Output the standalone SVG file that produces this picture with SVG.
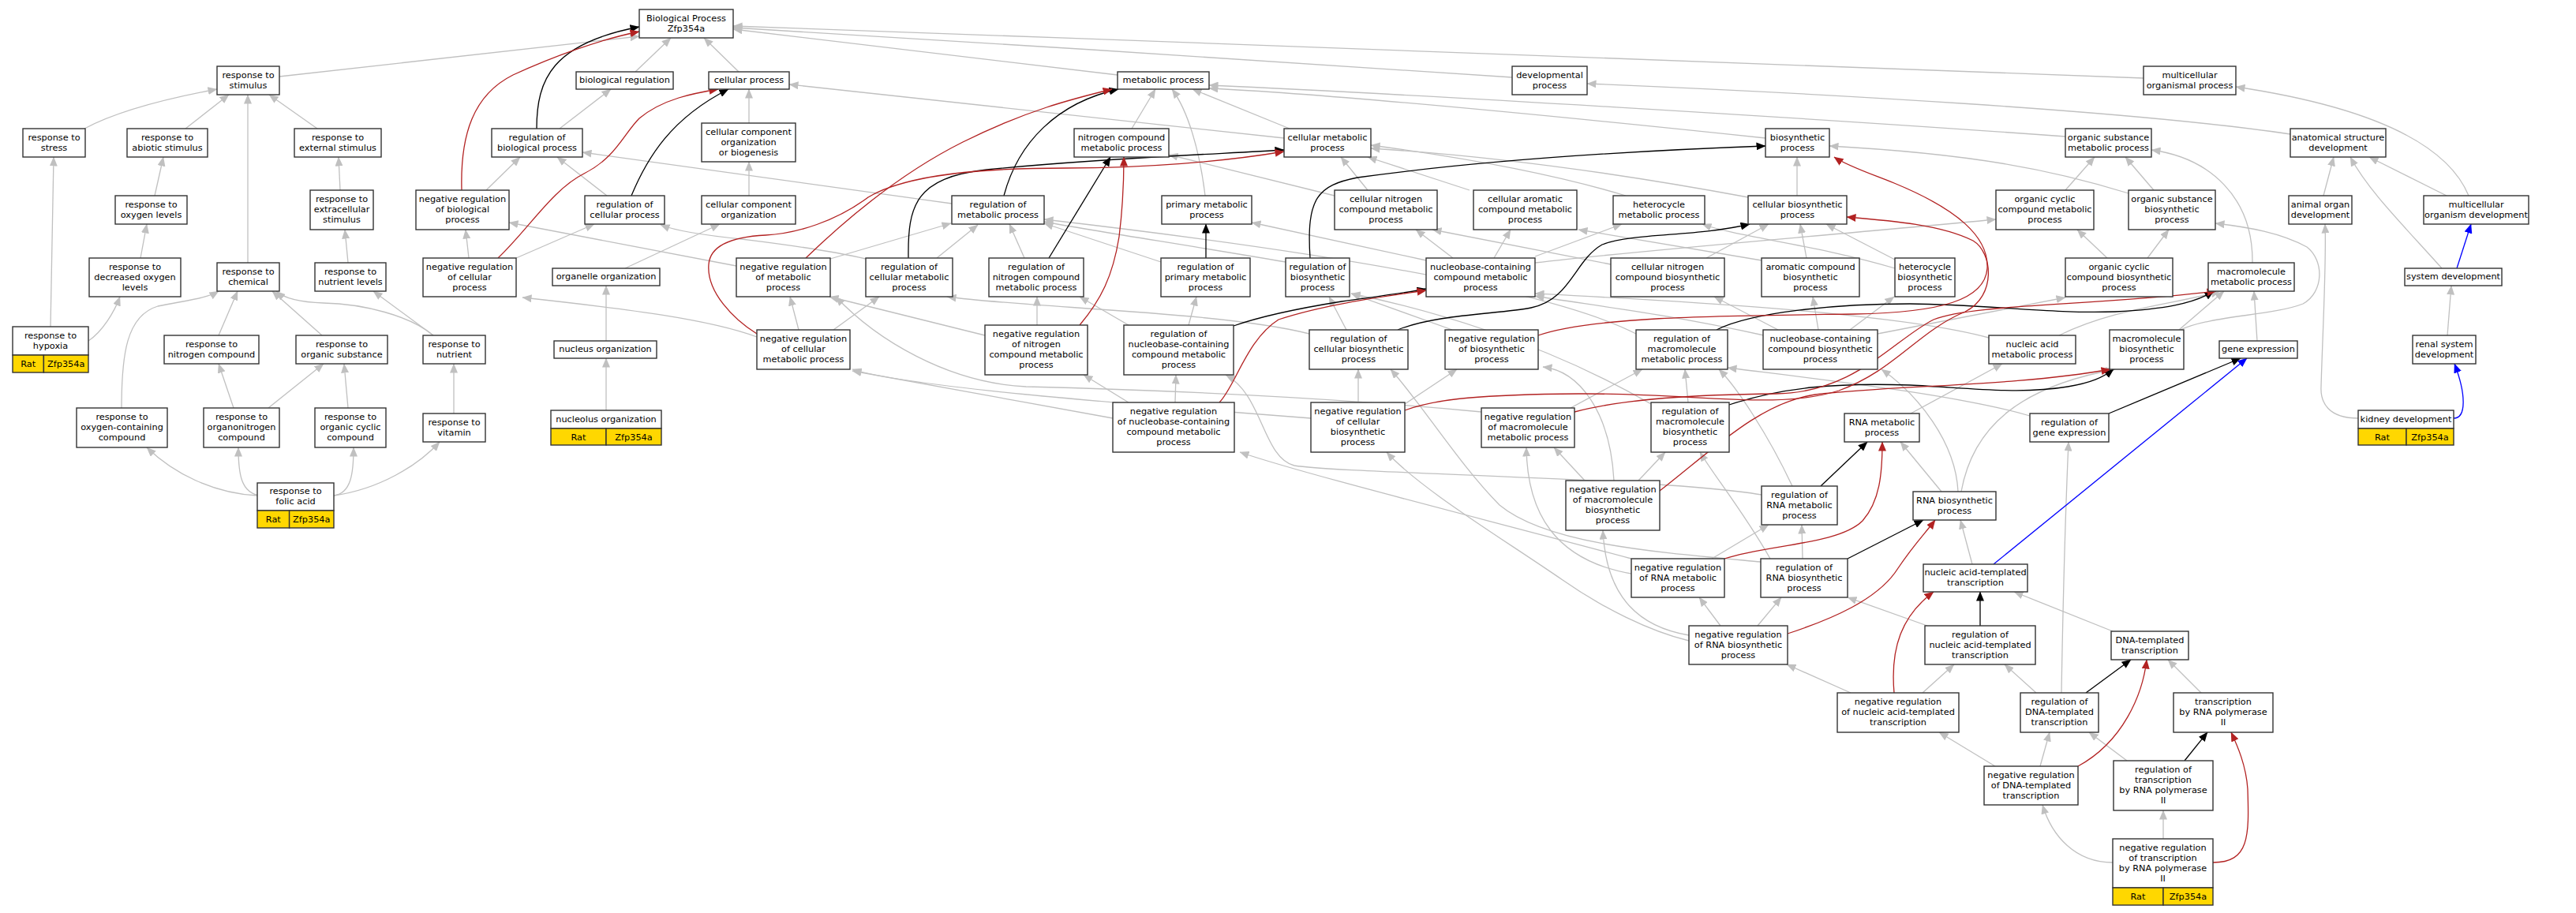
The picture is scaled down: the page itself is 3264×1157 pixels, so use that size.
<svg xmlns="http://www.w3.org/2000/svg" width="3264" height="1157" viewBox="0 0 3264 1157">
<defs>
<style>
.n rect{fill:#fff;stroke:#333;stroke-width:1.4}
.n rect.y{fill:#ffd700}
text{font-family:"DejaVu Sans","Liberation Sans",Arial,sans-serif;font-size:11.3px;text-anchor:middle;fill:#000}
#edges path{fill:none;stroke-width:1.3}
.g{stroke:#c0c0c0;marker-end:url(#ag)}
.k{stroke:#000;marker-end:url(#ak)}
.r{stroke:#b22222;marker-end:url(#ar)}
.b{stroke:#0000ff;marker-end:url(#ab)}
</style>
<marker id="ag" viewBox="0 0 12 10" refX="11.5" refY="5" markerWidth="12" markerHeight="10" markerUnits="userSpaceOnUse" orient="auto"><path d="M0,0L12,5L0,10z" fill="#c0c0c0"/></marker>
<marker id="ak" viewBox="0 0 12 10" refX="11.5" refY="5" markerWidth="12" markerHeight="10" markerUnits="userSpaceOnUse" orient="auto"><path d="M0,0L12,5L0,10z" fill="#000"/></marker>
<marker id="ar" viewBox="0 0 12 10" refX="11.5" refY="5" markerWidth="12" markerHeight="10" markerUnits="userSpaceOnUse" orient="auto"><path d="M0,0L12,5L0,10z" fill="#b22222"/></marker>
<marker id="ab" viewBox="0 0 12 10" refX="11.5" refY="5" markerWidth="12" markerHeight="10" markerUnits="userSpaceOnUse" orient="auto"><path d="M0,0L12,5L0,10z" fill="#0000ff"/></marker>
</defs>
<rect width="3264" height="1157" fill="#fff"/>
<g id="edges">
<path class="g" d="M354,97 L810,46"/>
<path class="g" d="M805,91 L850,48"/>
<path class="g" d="M936,91 L892,48"/>
<path class="g" d="M1416,95 L929,37"/>
<path class="g" d="M1916,98 C1700,84 1200,50 929,35"/>
<path class="g" d="M2716,99 C2400,86 1600,57 929,33"/>
<path class="g" d="M2902,170 C2700,140 2300,118 2011,106"/>
<path class="g" d="M3128,248 C3100,180 3000,135 2833,110"/>
<path class="g" d="M3100,248 L3002,199"/>
<path class="g" d="M2944,248 L2957,199"/>
<path class="g" d="M3094,340 C3040,280 3000,240 2978,199"/>
<path class="g" d="M3101,425 L3106,362"/>
<path class="g" d="M2988,530 C2950,530 2940,510 2941,490 C2943,420 2948,330 2946,284"/>
<path class="g" d="M2617,173 C2300,150 1800,120 1532,108"/>
<path class="g" d="M2237,175 C2000,150 1700,120 1532,112"/>
<path class="g" d="M1634,163 L1511,113"/>
<path class="g" d="M1527,248 C1520,190 1505,140 1485,113"/>
<path class="g" d="M1434,163 L1464,113"/>
<path class="g" d="M1627,175 L1000,107"/>
<path class="g" d="M107,163 C150,140 210,125 275,113"/>
<path class="g" d="M235,163 L290,120"/>
<path class="g" d="M402,163 L341,120"/>
<path class="g" d="M314,333 L314,120"/>
<path class="g" d="M196,248 L207,199"/>
<path class="g" d="M431,241 L429,199"/>
<path class="g" d="M178,327 L186,284"/>
<path class="g" d="M441,333 L437,291"/>
<path class="g" d="M64,414 L68,199"/>
<path class="g" d="M112,432 C130,420 145,395 152,376"/>
<path class="g" d="M277,425 L301,369"/>
<path class="g" d="M408,425 L345,369"/>
<path class="g" d="M154,517 C154,450 160,400 200,388 C240,380 262,378 277,369"/>
<path class="g" d="M549,425 L473,369"/>
<path class="g" d="M549,425 C520,400 460,385 410,384 C380,383 360,378 350,369"/>
<path class="g" d="M296,517 L277,461"/>
<path class="g" d="M340,517 L410,461"/>
<path class="g" d="M441,517 L436,461"/>
<path class="g" d="M575,524 L575,461"/>
<path class="g" d="M326,628 C270,625 220,600 186,567"/>
<path class="g" d="M330,628 C305,625 302,600 302,567"/>
<path class="g" d="M423,628 C445,625 448,600 448,567"/>
<path class="g" d="M423,628 C480,620 530,590 557,560"/>
<path class="g" d="M709,163 L774,113"/>
<path class="g" d="M616,241 L659,199"/>
<path class="g" d="M769,248 L706,199"/>
<path class="g" d="M654,327 L753,284"/>
<path class="g" d="M594,327 L590,291"/>
<path class="g" d="M949,156 L949,113"/>
<path class="g" d="M949,248 L949,205"/>
<path class="g" d="M792,340 L912,284"/>
<path class="g" d="M768,432 L768,362"/>
<path class="g" d="M768,520 L768,454"/>
<path class="g" d="M1206,258 L738,193"/>
<path class="g" d="M933,337 L645,282"/>
<path class="g" d="M1097,328 C1040,315 980,308 940,303 C890,298 855,292 837,285"/>
<path class="g" d="M959,427 C900,405 800,392 662,377"/>
<path class="g" d="M1052,328 L1205,283"/>
<path class="g" d="M1187,327 L1239,285"/>
<path class="g" d="M1298,327 L1279,284"/>
<path class="g" d="M1471,332 L1323,283"/>
<path class="g" d="M1012,418 L1001,376"/>
<path class="g" d="M1056,418 L1114,376"/>
<path class="g" d="M1314,412 L1314,376"/>
<path class="g" d="M1248,425 L1051,376"/>
<path class="g" d="M1430,412 L1368,376"/>
<path class="g" d="M1506,412 L1516,376"/>
<path class="g" d="M1659,423 C1550,395 1300,390 1200,376"/>
<path class="g" d="M1706,418 L1684,376"/>
<path class="g" d="M1840,418 L1712,372"/>
<path class="g" d="M1629,332 C1500,310 1400,295 1323,281"/>
<path class="g" d="M2073,423 C1950,360 1600,310 1323,278"/>
<path class="g" d="M2139,510 L2135,468"/>
<path class="g" d="M2092,512 C1950,430 1800,390 1712,372"/>
<path class="g" d="M1721,510 L1721,468"/>
<path class="g" d="M1780,512 L1846,468"/>
<path class="g" d="M1661,530 C1400,510 1150,490 1080,468"/>
<path class="g" d="M1489,510 L1490,475"/>
<path class="g" d="M1430,510 L1373,475"/>
<path class="g" d="M1410,530 L1080,470"/>
<path class="g" d="M1990,517 L2081,468"/>
<path class="g" d="M1877,522 C1700,505 1500,495 1300,490 C1200,485 1110,430 1059,376"/>
<path class="g" d="M2076,609 L2110,573"/>
<path class="g" d="M2008,609 L1969,567"/>
<path class="g" d="M2045,609 C2040,520 2000,470 1955,465"/>
<path class="g" d="M2271,616 C2240,550 2200,490 2178,468"/>
<path class="g" d="M2232,627 C2100,605 1700,600 1640,590 C1600,580 1600,500 1553,475"/>
<path class="g" d="M2169,708 L2241,665"/>
<path class="g" d="M2067,727 C1970,710 1935,650 1934,567"/>
<path class="g" d="M2067,708 C1850,650 1650,600 1571,573"/>
<path class="g" d="M2284,708 L2283,665"/>
<path class="g" d="M2243,708 C2210,650 2170,600 2154,573"/>
<path class="g" d="M2231,712 C2100,700 1960,690 1900,640 C1850,590 1800,510 1762,468"/>
<path class="g" d="M2227,793 L2257,757"/>
<path class="g" d="M2180,793 L2153,757"/>
<path class="g" d="M2140,805 C2080,795 2035,760 2031,672"/>
<path class="g" d="M2140,812 C2090,800 2030,770 1980,735 C1900,680 1800,620 1757,573"/>
<path class="g" d="M2436,878 L2476,842"/>
<path class="g" d="M2345,878 L2264,842"/>
<path class="g" d="M2442,793 L2341,757"/>
<path class="g" d="M2580,878 L2540,842"/>
<path class="g" d="M2612,878 C2614,760 2617,650 2621,560"/>
<path class="g" d="M2585,971 L2597,928"/>
<path class="g" d="M2528,971 L2457,928"/>
<path class="g" d="M2695,964 L2647,928"/>
<path class="g" d="M2741,1063 L2741,1027"/>
<path class="g" d="M2677,1093 C2630,1093 2600,1060 2588,1020"/>
<path class="g" d="M2790,879 L2747,836"/>
<path class="g" d="M2677,800 L2552,750"/>
<path class="g" d="M2499,715 L2484,659"/>
<path class="g" d="M2460,623 L2408,560"/>
<path class="g" d="M2481,623 C2478,560 2430,500 2384,468"/>
<path class="g" d="M2485,623 C2500,540 2560,490 2680,468"/>
<path class="g" d="M2421,524 L2537,461"/>
<path class="g" d="M2609,425 C2680,390 2760,385 2813,369"/>
<path class="g" d="M2520,428 C2400,395 2100,380 1945,372"/>
<path class="g" d="M2235,425 C2100,395 2000,385 1945,375"/>
<path class="g" d="M2253,418 L2172,376"/>
<path class="g" d="M2304,418 L2297,376"/>
<path class="g" d="M2344,418 L2400,376"/>
<path class="g" d="M2379,423 L2617,377"/>
<path class="g" d="M2761,418 L2818,369"/>
<path class="g" d="M2763,418 C2800,400 2880,400 2918,385 C2945,370 2945,330 2923,313 C2890,295 2850,288 2807,283"/>
<path class="g" d="M2860,432 L2856,369"/>
<path class="g" d="M2572,527 C2480,500 2300,480 2189,466"/>
<path class="g" d="M2670,327 L2632,291"/>
<path class="g" d="M2721,327 L2748,291"/>
<path class="g" d="M2617,241 L2654,199"/>
<path class="g" d="M2729,241 L2693,199"/>
<path class="g" d="M2697,245 C2600,215 2500,195 2318,185"/>
<path class="g" d="M2277,248 L2277,199"/>
<path class="g" d="M2215,250 C2000,210 1850,195 1737,188"/>
<path class="g" d="M2060,248 C1950,215 1820,195 1737,184"/>
<path class="g" d="M1733,241 L1699,199"/>
<path class="g" d="M1691,248 L1481,196"/>
<path class="g" d="M1862,241 L1733,199"/>
<path class="g" d="M1841,327 L1794,291"/>
<path class="g" d="M1893,327 L1914,291"/>
<path class="g" d="M1945,325 L2055,284"/>
<path class="g" d="M1945,333 C2100,315 2300,300 2529,278"/>
<path class="g" d="M1807,330 L1586,282"/>
<path class="g" d="M2041,335 L1815,291"/>
<path class="g" d="M2162,327 L2241,284"/>
<path class="g" d="M2232,330 L2000,291"/>
<path class="g" d="M2289,327 L2281,284"/>
<path class="g" d="M2401,329 L2314,284"/>
<path class="g" d="M2401,340 C2300,310 2200,300 2157,284"/>
<path class="g" d="M2854,333 C2855,250 2800,200 2726,190"/>
<path class="k" d="M680,163 C680,100 700,55 810,34"/>
<path class="k" d="M800,248 C820,200 850,150 923,113"/>
<path class="k" d="M1272,248 C1290,180 1340,130 1417,113"/>
<path class="k" d="M1151,327 C1150,260 1160,225 1250,215 C1400,200 1550,195 1627,190"/>
<path class="k" d="M1329,327 L1407,199"/>
<path class="k" d="M1528,327 L1528,284"/>
<path class="k" d="M1660,327 C1655,250 1670,235 1720,225 C1900,200 2100,190 2237,185"/>
<path class="k" d="M1563,413 C1600,400 1650,390 1700,382 C1750,375 1790,370 1807,366"/>
<path class="k" d="M1771,418 C1820,398 1900,398 1940,390 C1990,380 1995,330 2030,310 C2070,295 2150,300 2217,284"/>
<path class="k" d="M2175,418 C2220,395 2330,385 2420,385 C2520,386 2600,398 2680,395 C2740,392 2780,385 2805,369"/>
<path class="k" d="M2191,513 C2260,490 2330,485 2420,488 C2500,492 2560,500 2620,490 C2650,485 2665,478 2678,468"/>
<path class="k" d="M2307,616 L2366,560"/>
<path class="k" d="M2341,708 L2437,659"/>
<path class="k" d="M2672,524 L2839,454"/>
<path class="k" d="M2509,793 L2509,750"/>
<path class="k" d="M2643,878 L2700,836"/>
<path class="k" d="M2768,964 L2797,928"/>
<path class="r" d="M585,241 C583,170 600,120 650,95 C700,72 760,50 810,40"/>
<path class="r" d="M631,327 C670,290 700,240 740,220 C780,200 790,170 810,150 C840,125 880,118 910,113"/>
<path class="r" d="M1021,327 C1080,270 1150,215 1220,180 C1300,140 1360,125 1409,113"/>
<path class="r" d="M959,423 C930,405 895,370 898,335 C900,310 930,300 970,298 C1010,296 1060,280 1100,250 C1150,220 1250,213 1350,213 C1450,213 1550,205 1627,192"/>
<path class="r" d="M1368,412 C1395,380 1410,350 1418,300 C1423,260 1424,230 1424,199"/>
<path class="r" d="M1545,510 C1565,490 1580,430 1620,405 C1680,385 1760,375 1807,368"/>
<path class="r" d="M1949,425 C2020,400 2200,400 2350,398 C2460,396 2515,380 2518,340 C2520,300 2480,265 2400,232 C2370,220 2340,210 2324,199"/>
<path class="r" d="M1780,520 C1820,505 1880,500 2000,499 C2150,498 2250,520 2330,495 C2400,470 2430,420 2490,395 C2530,375 2525,320 2500,305 C2460,285 2400,280 2340,275"/>
<path class="r" d="M1995,522 C2060,505 2150,500 2250,499 C2350,498 2400,430 2450,405 C2500,385 2650,388 2808,369"/>
<path class="r" d="M2103,622 C2170,570 2230,510 2300,500 C2400,488 2550,490 2674,468"/>
<path class="r" d="M2185,708 C2240,690 2330,690 2360,660 C2382,635 2385,600 2385,560"/>
<path class="r" d="M2265,803 C2320,785 2380,760 2405,720 C2425,690 2440,675 2452,659"/>
<path class="r" d="M2400,878 C2395,820 2410,780 2450,750"/>
<path class="r" d="M2633,971 C2690,940 2715,880 2720,836"/>
<path class="r" d="M2804,1093 C2850,1093 2850,1060 2848,1000 C2846,970 2835,945 2827,928"/>
<path class="b" d="M3113,340 L3131,284"/>
<path class="b" d="M3109,530 C3125,530 3125,500 3110,461"/>
<path class="b" d="M2526,715 L2847,454"/>
</g>
<g id="bp" class="n"><rect x="810" y="12" width="119" height="36"/><text x="869.5" y="26.5">Biological Process</text><text x="869.5" y="39.5">Zfp354a</text></g>
<g id="n_rstim" class="n"><rect x="275" y="84" width="79" height="36"/><text x="314.5" y="98.5">response to</text><text x="314.5" y="111.5">stimulus</text></g>
<g id="n_bioreg" class="n"><rect x="730" y="91" width="123" height="22"/><text x="791.5" y="105">biological regulation</text></g>
<g id="n_cellproc" class="n"><rect x="898" y="91" width="102" height="22"/><text x="949" y="105">cellular process</text></g>
<g id="n_metproc" class="n"><rect x="1416" y="91" width="116" height="22"/><text x="1474" y="105">metabolic process</text></g>
<g id="n_devproc" class="n"><rect x="1916" y="84" width="95" height="36"/><text x="1963.5" y="98.5">developmental</text><text x="1963.5" y="111.5">process</text></g>
<g id="n_mcorgproc" class="n"><rect x="2716" y="84" width="117" height="36"/><text x="2774.5" y="98.5">multicellular</text><text x="2774.5" y="111.5">organismal process</text></g>
<g id="n_rstress" class="n"><rect x="29" y="163" width="79" height="36"/><text x="68.5" y="177.5">response to</text><text x="68.5" y="190.5">stress</text></g>
<g id="n_rabiotic" class="n"><rect x="161" y="163" width="102" height="36"/><text x="212" y="177.5">response to</text><text x="212" y="190.5">abiotic stimulus</text></g>
<g id="n_rexternal" class="n"><rect x="373" y="163" width="110" height="36"/><text x="428" y="177.5">response to</text><text x="428" y="190.5">external stimulus</text></g>
<g id="n_regbp" class="n"><rect x="623" y="163" width="115" height="36"/><text x="680.5" y="177.5">regulation of</text><text x="680.5" y="190.5">biological process</text></g>
<g id="n_ccob" class="n"><rect x="889" y="156" width="119" height="49"/><text x="948.5" y="170.5">cellular component</text><text x="948.5" y="183.5">organization</text><text x="948.5" y="196.5">or biogenesis</text></g>
<g id="n_nitromet" class="n"><rect x="1361" y="163" width="120" height="36"/><text x="1421" y="177.5">nitrogen compound</text><text x="1421" y="190.5">metabolic process</text></g>
<g id="n_cellmet" class="n"><rect x="1627" y="163" width="110" height="36"/><text x="1682" y="177.5">cellular metabolic</text><text x="1682" y="190.5">process</text></g>
<g id="n_biosyn" class="n"><rect x="2237" y="163" width="81" height="36"/><text x="2277.5" y="177.5">biosynthetic</text><text x="2277.5" y="190.5">process</text></g>
<g id="n_orgsubmet" class="n"><rect x="2617" y="163" width="109" height="36"/><text x="2671.5" y="177.5">organic substance</text><text x="2671.5" y="190.5">metabolic process</text></g>
<g id="n_anatdev" class="n"><rect x="2902" y="163" width="121" height="36"/><text x="2962.5" y="177.5">anatomical structure</text><text x="2962.5" y="190.5">development</text></g>
<g id="n_roxy" class="n"><rect x="146" y="248" width="91" height="36"/><text x="191.5" y="262.5">response to</text><text x="191.5" y="275.5">oxygen levels</text></g>
<g id="n_rextracell" class="n"><rect x="393" y="241" width="80" height="50"/><text x="433" y="256">response to</text><text x="433" y="269">extracellular</text><text x="433" y="282">stimulus</text></g>
<g id="n_nrbp" class="n"><rect x="527" y="241" width="118" height="50"/><text x="586" y="256">negative regulation</text><text x="586" y="269">of biological</text><text x="586" y="282">process</text></g>
<g id="n_regcp" class="n"><rect x="741" y="248" width="101" height="36"/><text x="791.5" y="262.5">regulation of</text><text x="791.5" y="275.5">cellular process</text></g>
<g id="n_cco" class="n"><rect x="889" y="248" width="119" height="36"/><text x="948.5" y="262.5">cellular component</text><text x="948.5" y="275.5">organization</text></g>
<g id="n_regmet" class="n"><rect x="1206" y="248" width="117" height="36"/><text x="1264.5" y="262.5">regulation of</text><text x="1264.5" y="275.5">metabolic process</text></g>
<g id="n_primmet" class="n"><rect x="1472" y="248" width="114" height="36"/><text x="1529" y="262.5">primary metabolic</text><text x="1529" y="275.5">process</text></g>
<g id="n_cellnitromet" class="n"><rect x="1691" y="241" width="130" height="50"/><text x="1756" y="256">cellular nitrogen</text><text x="1756" y="269">compound metabolic</text><text x="1756" y="282">process</text></g>
<g id="n_cellaromet" class="n"><rect x="1867" y="241" width="131" height="50"/><text x="1932.5" y="256">cellular aromatic</text><text x="1932.5" y="269">compound metabolic</text><text x="1932.5" y="282">process</text></g>
<g id="n_hetmet" class="n"><rect x="2044" y="248" width="116" height="36"/><text x="2102" y="262.5">heterocycle</text><text x="2102" y="275.5">metabolic process</text></g>
<g id="n_cellbiosyn" class="n"><rect x="2215" y="248" width="125" height="36"/><text x="2277.5" y="262.5">cellular biosynthetic</text><text x="2277.5" y="275.5">process</text></g>
<g id="n_orgcycmet" class="n"><rect x="2529" y="241" width="124" height="50"/><text x="2591" y="256">organic cyclic</text><text x="2591" y="269">compound metabolic</text><text x="2591" y="282">process</text></g>
<g id="n_orgsubbiosyn" class="n"><rect x="2697" y="241" width="110" height="50"/><text x="2752" y="256">organic substance</text><text x="2752" y="269">biosynthetic</text><text x="2752" y="282">process</text></g>
<g id="n_animorgdev" class="n"><rect x="2900" y="248" width="80" height="36"/><text x="2940" y="262.5">animal organ</text><text x="2940" y="275.5">development</text></g>
<g id="n_mcorgdev" class="n"><rect x="3071" y="248" width="133" height="36"/><text x="3137.5" y="262.5">multicellular</text><text x="3137.5" y="275.5">organism development</text></g>
<g id="n_rdecoxy" class="n"><rect x="113" y="327" width="116" height="49"/><text x="171" y="341.5">response to</text><text x="171" y="354.5">decreased oxygen</text><text x="171" y="367.5">levels</text></g>
<g id="n_rchem" class="n"><rect x="275" y="333" width="79" height="36"/><text x="314.5" y="347.5">response to</text><text x="314.5" y="360.5">chemical</text></g>
<g id="n_rnutlev" class="n"><rect x="399" y="333" width="90" height="36"/><text x="444" y="347.5">response to</text><text x="444" y="360.5">nutrient levels</text></g>
<g id="n_nrcp" class="n"><rect x="536" y="327" width="118" height="49"/><text x="595" y="341.5">negative regulation</text><text x="595" y="354.5">of cellular</text><text x="595" y="367.5">process</text></g>
<g id="n_organelleorg" class="n"><rect x="700" y="340" width="136" height="22"/><text x="768" y="354">organelle organization</text></g>
<g id="n_nrmet" class="n"><rect x="933" y="327" width="119" height="49"/><text x="992.5" y="341.5">negative regulation</text><text x="992.5" y="354.5">of metabolic</text><text x="992.5" y="367.5">process</text></g>
<g id="n_regcellmet" class="n"><rect x="1097" y="327" width="110" height="49"/><text x="1152" y="341.5">regulation of</text><text x="1152" y="354.5">cellular metabolic</text><text x="1152" y="367.5">process</text></g>
<g id="n_regnitromet" class="n"><rect x="1253" y="327" width="120" height="49"/><text x="1313" y="341.5">regulation of</text><text x="1313" y="354.5">nitrogen compound</text><text x="1313" y="367.5">metabolic process</text></g>
<g id="n_regprimmet" class="n"><rect x="1471" y="327" width="113" height="49"/><text x="1527.5" y="341.5">regulation of</text><text x="1527.5" y="354.5">primary metabolic</text><text x="1527.5" y="367.5">process</text></g>
<g id="n_regbiosyn" class="n"><rect x="1629" y="327" width="81" height="49"/><text x="1669.5" y="341.5">regulation of</text><text x="1669.5" y="354.5">biosynthetic</text><text x="1669.5" y="367.5">process</text></g>
<g id="n_nucmet" class="n"><rect x="1807" y="327" width="138" height="49"/><text x="1876" y="341.5">nucleobase-containing</text><text x="1876" y="354.5">compound metabolic</text><text x="1876" y="367.5">process</text></g>
<g id="n_cellnitrobiosyn" class="n"><rect x="2041" y="327" width="144" height="49"/><text x="2113" y="341.5">cellular nitrogen</text><text x="2113" y="354.5">compound biosynthetic</text><text x="2113" y="367.5">process</text></g>
<g id="n_arobiosyn" class="n"><rect x="2232" y="327" width="124" height="49"/><text x="2294" y="341.5">aromatic compound</text><text x="2294" y="354.5">biosynthetic</text><text x="2294" y="367.5">process</text></g>
<g id="n_hetbiosyn" class="n"><rect x="2401" y="327" width="76" height="49"/><text x="2439" y="341.5">heterocycle</text><text x="2439" y="354.5">biosynthetic</text><text x="2439" y="367.5">process</text></g>
<g id="n_orgcycbiosyn" class="n"><rect x="2617" y="327" width="136" height="49"/><text x="2685" y="341.5">organic cyclic</text><text x="2685" y="354.5">compound biosynthetic</text><text x="2685" y="367.5">process</text></g>
<g id="n_macromet" class="n"><rect x="2798" y="333" width="109" height="36"/><text x="2852.5" y="347.5">macromolecule</text><text x="2852.5" y="360.5">metabolic process</text></g>
<g id="n_sysdev" class="n"><rect x="3047" y="340" width="123" height="22"/><text x="3108.5" y="354">system development</text></g>
<g id="n_rhypoxia" class="n"><rect x="16" y="414" width="96" height="36"/><rect class="y" x="16" y="450" width="39.4" height="22"/><rect class="y" x="55.4" y="450" width="56.6" height="22"/><text x="64" y="428.5">response to</text><text x="64" y="441.5">hypoxia</text><text x="35.7" y="465">Rat</text><text x="83.7" y="465">Zfp354a</text></g>
<g id="n_rnitrocomp" class="n"><rect x="208" y="425" width="120" height="36"/><text x="268" y="439.5">response to</text><text x="268" y="452.5">nitrogen compound</text></g>
<g id="n_rorgsub" class="n"><rect x="375" y="425" width="116" height="36"/><text x="433" y="439.5">response to</text><text x="433" y="452.5">organic substance</text></g>
<g id="n_rnutrient" class="n"><rect x="536" y="425" width="79" height="36"/><text x="575.5" y="439.5">response to</text><text x="575.5" y="452.5">nutrient</text></g>
<g id="n_nucleusorg" class="n"><rect x="702" y="432" width="130" height="22"/><text x="767" y="446">nucleus organization</text></g>
<g id="n_nrcellmet" class="n"><rect x="959" y="418" width="118" height="50"/><text x="1018" y="433">negative regulation</text><text x="1018" y="446">of cellular</text><text x="1018" y="459">metabolic process</text></g>
<g id="n_nrnitromet" class="n"><rect x="1248" y="412" width="130" height="63"/><text x="1313" y="427">negative regulation</text><text x="1313" y="440">of nitrogen</text><text x="1313" y="453">compound metabolic</text><text x="1313" y="466">process</text></g>
<g id="n_regnucmet" class="n"><rect x="1424" y="412" width="139" height="63"/><text x="1493.5" y="427">regulation of</text><text x="1493.5" y="440">nucleobase-containing</text><text x="1493.5" y="453">compound metabolic</text><text x="1493.5" y="466">process</text></g>
<g id="n_regcellbiosyn" class="n"><rect x="1659" y="418" width="125" height="50"/><text x="1721.5" y="433">regulation of</text><text x="1721.5" y="446">cellular biosynthetic</text><text x="1721.5" y="459">process</text></g>
<g id="n_nrbiosyn" class="n"><rect x="1831" y="418" width="118" height="50"/><text x="1890" y="433">negative regulation</text><text x="1890" y="446">of biosynthetic</text><text x="1890" y="459">process</text></g>
<g id="n_regmacromet" class="n"><rect x="2073" y="418" width="116" height="50"/><text x="2131" y="433">regulation of</text><text x="2131" y="446">macromolecule</text><text x="2131" y="459">metabolic process</text></g>
<g id="n_nucbiosyn" class="n"><rect x="2234" y="418" width="145" height="50"/><text x="2306.5" y="433">nucleobase-containing</text><text x="2306.5" y="446">compound biosynthetic</text><text x="2306.5" y="459">process</text></g>
<g id="n_nucacidmet" class="n"><rect x="2520" y="425" width="110" height="36"/><text x="2575" y="439.5">nucleic acid</text><text x="2575" y="452.5">metabolic process</text></g>
<g id="n_macrobiosyn" class="n"><rect x="2673" y="418" width="94" height="50"/><text x="2720" y="433">macromolecule</text><text x="2720" y="446">biosynthetic</text><text x="2720" y="459">process</text></g>
<g id="n_geneexpr" class="n"><rect x="2812" y="432" width="99" height="22"/><text x="2861.5" y="446">gene expression</text></g>
<g id="n_renaldev" class="n"><rect x="3057" y="425" width="80" height="36"/><text x="3097" y="439.5">renal system</text><text x="3097" y="452.5">development</text></g>
<g id="n_roxycomp" class="n"><rect x="97" y="517" width="115" height="50"/><text x="154.5" y="532">response to</text><text x="154.5" y="545">oxygen-containing</text><text x="154.5" y="558">compound</text></g>
<g id="n_rorganonitro" class="n"><rect x="258" y="517" width="96" height="50"/><text x="306" y="532">response to</text><text x="306" y="545">organonitrogen</text><text x="306" y="558">compound</text></g>
<g id="n_rorgcyc" class="n"><rect x="399" y="517" width="90" height="50"/><text x="444" y="532">response to</text><text x="444" y="545">organic cyclic</text><text x="444" y="558">compound</text></g>
<g id="n_rvitamin" class="n"><rect x="536" y="524" width="79" height="36"/><text x="575.5" y="538.5">response to</text><text x="575.5" y="551.5">vitamin</text></g>
<g id="n_nucleolusorg" class="n"><rect x="698" y="520" width="140" height="23"/><rect class="y" x="698" y="543" width="70" height="21"/><rect class="y" x="768" y="543" width="70" height="21"/><text x="768" y="535">nucleolus organization</text><text x="733" y="557.5">Rat</text><text x="803" y="557.5">Zfp354a</text></g>
<g id="n_nrnucmet" class="n"><rect x="1410" y="510" width="154" height="63"/><text x="1487" y="525">negative regulation</text><text x="1487" y="538">of nucleobase-containing</text><text x="1487" y="551">compound metabolic</text><text x="1487" y="564">process</text></g>
<g id="n_nrcellbiosyn" class="n"><rect x="1661" y="510" width="119" height="63"/><text x="1720.5" y="525">negative regulation</text><text x="1720.5" y="538">of cellular</text><text x="1720.5" y="551">biosynthetic</text><text x="1720.5" y="564">process</text></g>
<g id="n_nrmacromet" class="n"><rect x="1877" y="517" width="118" height="50"/><text x="1936" y="532">negative regulation</text><text x="1936" y="545">of macromolecule</text><text x="1936" y="558">metabolic process</text></g>
<g id="n_regmacrobiosyn" class="n"><rect x="2092" y="510" width="99" height="63"/><text x="2141.5" y="525">regulation of</text><text x="2141.5" y="538">macromolecule</text><text x="2141.5" y="551">biosynthetic</text><text x="2141.5" y="564">process</text></g>
<g id="n_rnamet" class="n"><rect x="2337" y="524" width="95" height="36"/><text x="2384.5" y="538.5">RNA metabolic</text><text x="2384.5" y="551.5">process</text></g>
<g id="n_reggeneexpr" class="n"><rect x="2572" y="524" width="100" height="36"/><text x="2622" y="538.5">regulation of</text><text x="2622" y="551.5">gene expression</text></g>
<g id="n_kidneydev" class="n"><rect x="2988" y="520" width="121" height="23"/><rect class="y" x="2988" y="543" width="61" height="21"/><rect class="y" x="3049" y="543" width="60" height="21"/><text x="3048.5" y="535">kidney development</text><text x="3018.5" y="557.5">Rat</text><text x="3079" y="557.5">Zfp354a</text></g>
<g id="n_rfolic" class="n"><rect x="326" y="612" width="97" height="35"/><rect class="y" x="326" y="647" width="40.6" height="22"/><rect class="y" x="366.6" y="647" width="56.4" height="22"/><text x="374.5" y="626">response to</text><text x="374.5" y="639">folic acid</text><text x="346.3" y="662">Rat</text><text x="394.8" y="662">Zfp354a</text></g>
<g id="n_nrmacrobiosyn" class="n"><rect x="1984" y="609" width="119" height="63"/><text x="2043.5" y="624">negative regulation</text><text x="2043.5" y="637">of macromolecule</text><text x="2043.5" y="650">biosynthetic</text><text x="2043.5" y="663">process</text></g>
<g id="n_regrnamet" class="n"><rect x="2232" y="616" width="96" height="49"/><text x="2280" y="630.5">regulation of</text><text x="2280" y="643.5">RNA metabolic</text><text x="2280" y="656.5">process</text></g>
<g id="n_rnabiosyn" class="n"><rect x="2424" y="623" width="105" height="36"/><text x="2476.5" y="637.5">RNA biosynthetic</text><text x="2476.5" y="650.5">process</text></g>
<g id="n_nrrnamet" class="n"><rect x="2067" y="708" width="118" height="49"/><text x="2126" y="722.5">negative regulation</text><text x="2126" y="735.5">of RNA metabolic</text><text x="2126" y="748.5">process</text></g>
<g id="n_regrnabiosyn" class="n"><rect x="2231" y="708" width="110" height="49"/><text x="2286" y="722.5">regulation of</text><text x="2286" y="735.5">RNA biosynthetic</text><text x="2286" y="748.5">process</text></g>
<g id="n_nuctranscr" class="n"><rect x="2437" y="715" width="132" height="35"/><text x="2503" y="729">nucleic acid-templated</text><text x="2503" y="742">transcription</text></g>
<g id="n_nrrnabiosyn" class="n"><rect x="2140" y="793" width="125" height="49"/><text x="2202.5" y="807.5">negative regulation</text><text x="2202.5" y="820.5">of RNA biosynthetic</text><text x="2202.5" y="833.5">process</text></g>
<g id="n_regnuctranscr" class="n"><rect x="2439" y="793" width="140" height="49"/><text x="2509" y="807.5">regulation of</text><text x="2509" y="820.5">nucleic acid-templated</text><text x="2509" y="833.5">transcription</text></g>
<g id="n_dnatranscr" class="n"><rect x="2675" y="800" width="98" height="36"/><text x="2724" y="814.5">DNA-templated</text><text x="2724" y="827.5">transcription</text></g>
<g id="n_nrnuctranscr" class="n"><rect x="2328" y="878" width="154" height="50"/><text x="2405" y="893">negative regulation</text><text x="2405" y="906">of nucleic acid-templated</text><text x="2405" y="919">transcription</text></g>
<g id="n_regdnatranscr" class="n"><rect x="2560" y="878" width="99" height="50"/><text x="2609.5" y="893">regulation of</text><text x="2609.5" y="906">DNA-templated</text><text x="2609.5" y="919">transcription</text></g>
<g id="n_transrnapii" class="n"><rect x="2754" y="878" width="126" height="50"/><text x="2817" y="893">transcription</text><text x="2817" y="906">by RNA polymerase</text><text x="2817" y="919">II</text></g>
<g id="n_nrdnatranscr" class="n"><rect x="2514" y="971" width="119" height="49"/><text x="2573.5" y="985.5">negative regulation</text><text x="2573.5" y="998.5">of DNA-templated</text><text x="2573.5" y="1011.5">transcription</text></g>
<g id="n_regtransrnapii" class="n"><rect x="2678" y="964" width="126" height="63"/><text x="2741" y="979">regulation of</text><text x="2741" y="992">transcription</text><text x="2741" y="1005">by RNA polymerase</text><text x="2741" y="1018">II</text></g>
<g id="n_nrtransrnapii" class="n"><rect x="2677" y="1063" width="127" height="62"/><rect class="y" x="2677" y="1125" width="64" height="22"/><rect class="y" x="2741" y="1125" width="63" height="22"/><text x="2740.5" y="1077.5">negative regulation</text><text x="2740.5" y="1090.5">of transcription</text><text x="2740.5" y="1103.5">by RNA polymerase</text><text x="2740.5" y="1116.5">II</text><text x="2709" y="1140">Rat</text><text x="2772.5" y="1140">Zfp354a</text></g>
</svg>
